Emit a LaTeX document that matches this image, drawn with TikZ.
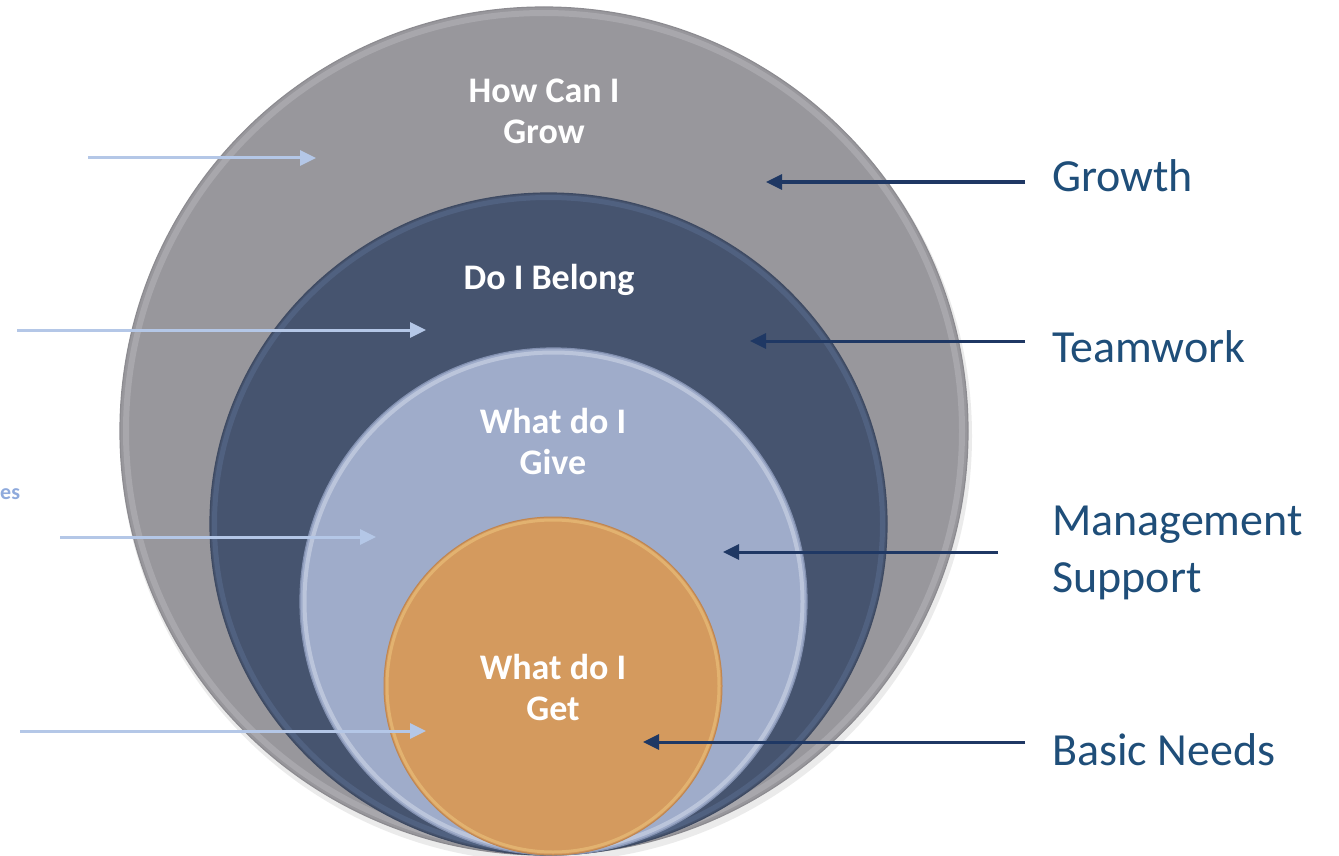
\documentclass[tikz,border=0pt]{standalone}
\usepackage{fontspec}
\setmainfont{Carlito}
\usetikzlibrary{arrows.meta}

\definecolor{outergray}{HTML}{98979C}
\definecolor{outerrim}{HTML}{B3B2B7}
\definecolor{outeredge}{HTML}{8C8B90}
\definecolor{navyfill}{HTML}{46546F}
\definecolor{navyrim}{HTML}{5A6C8E}
\definecolor{navyedge}{HTML}{3E4A62}
\definecolor{paleblue}{HTML}{9FACCA}
\definecolor{palerim}{HTML}{C3CCE0}
\definecolor{paleedge}{HTML}{8290B0}
\definecolor{orangefill}{HTML}{D49A5E}
\definecolor{orangerim}{HTML}{E8BD78}
\definecolor{orangeedge}{HTML}{C08650}
\definecolor{labelblue}{HTML}{1F4E79}
\definecolor{darkarrow}{HTML}{1F3864}
\definecolor{lightarrow}{HTML}{B4C7E7}
\definecolor{cuttext}{HTML}{8FAADC}

\tikzset{
  ringlabel/.style={text=white, font=\fontsize{36}{41}\selectfont\bfseries,
                    align=center, inner sep=0pt},
  sidelabel/.style={text=labelblue, font=\fontsize{46}{57}\selectfont,
                    align=left, inner sep=0pt, anchor=base west},
  inarrow/.style={draw=lightarrow, line width=3pt,
                  -{Triangle[length=16pt,width=15pt]}},
  outarrow/.style={draw=darkarrow, line width=3pt,
                   -{Triangle[length=16pt,width=15pt]}},
}

\begin{document}
\begin{tikzpicture}[x=1pt,y=-1pt]
\useasboundingbox (0,0) rectangle (1339,856);

\begin{scope}
\clip (0,0) rectangle (1339,856);
% soft shadow under the stack
\fill[black, opacity=0.08] (546,436) ellipse [x radius=426, y radius=426];
% outer ring: growth
\fill[outergray] (544,431) circle [radius=424];
\draw[outerrim, line width=6pt, opacity=0.6] (544,431) circle [radius=418];
\draw[outeredge, line width=1.2pt] (544,431) circle [radius=424];
% second ring: belonging
\fill[navyfill] (548.5,524) ellipse [x radius=338.5, y radius=331];
\draw[navyrim, line width=5pt, opacity=0.55] (548.5,524) ellipse [x radius=334, y radius=326.5];
\draw[navyedge, line width=1.2pt] (548.5,524) ellipse [x radius=338.5, y radius=331];
% third ring: contribution
\fill[paleblue] (553.5,601.5) circle [radius=253.5];
\draw[palerim, line width=4pt, opacity=0.8] (553.5,601.5) circle [radius=249];
\draw[paleedge, line width=1.2pt] (553.5,601.5) circle [radius=253.5];
% core: basic needs
\fill[orangefill] (553,686) circle [radius=169];
\draw[orangerim, line width=3pt, opacity=0.7] (553,686) circle [radius=166];
\draw[orangeedge, line width=1pt] (553,686) circle [radius=169];
\end{scope}

% ring captions
\node[ringlabel] (grow) at (544,111) {How Can I\\Grow};
\node[ringlabel, anchor=base] (belong) at (549,289) {Do I Belong};
\node[ringlabel] (give) at (553,441) {What do I\\Give};
\node[ringlabel] (get) at (553,687) {What do I\\Get};

% right-hand headings (base anchor sits on the last line)
\node[sidelabel] (growth) at (1052,191) {Growth};
\node[sidelabel] (teamwork) at (1052,362) {Teamwork};
\node[sidelabel] (mgmt) at (1052,592) {Management\\Support};
\node[sidelabel] (basic) at (1052,765) {Basic Needs};

% small caption at the left margin
\node[text=cuttext, font=\fontsize{22}{26}\selectfont\bfseries,
      inner sep=0pt, anchor=base west] (cut) at (0,499) {es};

% arrow end points
\coordinate (gS) at (1025,182);  \coordinate (gT) at (766,182);
\coordinate (tS) at (1025,341);  \coordinate (tT) at (750,341);
\coordinate (mS) at (998,552);   \coordinate (mT) at (723,552);
\coordinate (bS) at (1025,742);  \coordinate (bT) at (643,742);

\coordinate (l1S) at (88,158);   \coordinate (l1T) at (316,158);
\coordinate (l2S) at (17,330);   \coordinate (l2T) at (426,330);
\coordinate (l3S) at (60,537);   \coordinate (l3T) at (376,537);
\coordinate (l4S) at (20,731);   \coordinate (l4T) at (426,731);

% pointers from the headings into the rings
\draw[outarrow] (gS) -- (gT);
\draw[outarrow] (tS) -- (tT);
\draw[outarrow] (mS) -- (mT);
\draw[outarrow] (bS) -- (bT);

% pointers from the left margin
\draw[inarrow] (l1S) -- (l1T);
\draw[inarrow] (l2S) -- (l2T);
\draw[inarrow] (l3S) -- (l3T);
\draw[inarrow] (l4S) -- (l4T);
\end{tikzpicture}
\end{document}
